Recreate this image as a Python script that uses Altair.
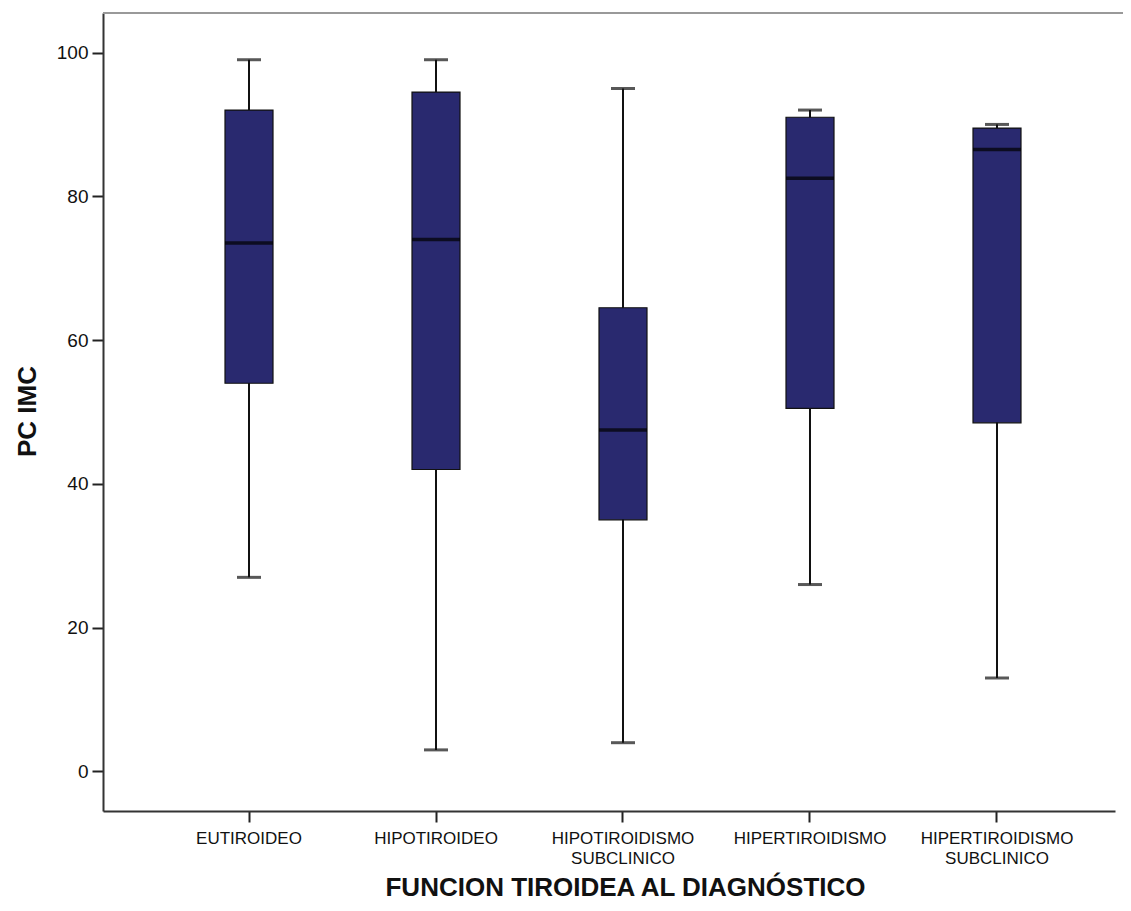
import altair as alt
import pandas as pd

categories = ["EUTIROIDEO", "HIPOTIROIDEO", "HIPOTIROIDISMO SUBCLINICO",
              "HIPERTIROIDISMO", "HIPERTIROIDISMO SUBCLINICO"]
whisker_low = [27, 3, 4, 26, 13]
q1 = [54, 42, 35, 50.5, 48.5]
median = [73.5, 74, 47.5, 82.5, 86.5]
q3 = [92, 94.5, 64.5, 91, 89.5]
whisker_high = [99, 99, 95, 92, 90]
y_ticks = [0, 20, 40, 60, 80, 100]

df = pd.DataFrame({
    "grupo": categories,
    "low": whisker_low,
    "q1": q1,
    "median": median,
    "q3": q3,
    "high": whisker_high,
})

W, H = 1012, 798
FILL = "#29296f"

xscale = alt.Scale(domain=categories, paddingInner=0, paddingOuter=0.2059,
                   align=0.6818, round=False)
yscale = alt.Scale(domain=[-5.5, 105.5], nice=False, zero=False)

label_expr = ("indexof(datum.value, ' SUBCLINICO') >= 0 ? "
              "[replace(datum.value, ' SUBCLINICO', ''), 'SUBCLINICO'] : datum.value")

xaxis = alt.Axis(title="FUNCION TIROIDEA AL DIAGNÓSTICO", labelAngle=0,
                 labelExpr=label_expr, labelFontSize=17, labelLineHeight=20,
                 labelPadding=8, labelColor="#111",
                 tickSize=11, tickWidth=2, tickColor="#222",
                 domainColor="#333", domainWidth=2,
                 titleFontSize=26, titleFontWeight="bold", titleColor="#111",
                 titleX=522, titleY=84, titleAlign="center",
                 titleBaseline="alphabetic", grid=False)
yaxis = alt.Axis(title="PC IMC", values=y_ticks, labelFontSize=19,
                 labelPadding=4, labelColor="#111",
                 tickSize=11, tickWidth=2, tickColor="#222",
                 domainColor="#333", domainWidth=2,
                 titleFontSize=26, titleFontWeight="bold", titleColor="#111",
                 titleAngle=-90, titleX=-76, titleY=398, titleAlign="center",
                 titleBaseline="middle", grid=False)

base = alt.Chart(df).encode(x=alt.X("grupo:N", scale=xscale, axis=xaxis, sort=categories))

whisker = base.mark_rule(color="#111", strokeWidth=2).encode(
    y=alt.Y("low:Q", scale=yscale, axis=yaxis), y2="high:Q")
box = base.mark_bar(size=48, fill=FILL, stroke="#111", strokeWidth=1.2).encode(
    y=alt.Y("q1:Q", scale=yscale), y2="q3:Q")
med = base.mark_tick(size=48, thickness=3.5, color="#000").encode(
    y=alt.Y("median:Q", scale=yscale))
cap_low = base.mark_tick(size=24, thickness=3, color="#111").encode(
    y=alt.Y("low:Q", scale=yscale))
cap_high = base.mark_tick(size=24, thickness=3, color="#111").encode(
    y=alt.Y("high:Q", scale=yscale))

top_border = alt.Chart(pd.DataFrame({"a": [0]})).mark_rule(
    color="#999", strokeWidth=2).encode(
    x=alt.value(0), x2=alt.value(W + 8), y=alt.value(0))

chart = alt.layer(whisker, box, med, cap_low, cap_high, top_border).properties(
    width=W, height=H,
    autosize=alt.AutoSizeParams(type="none"),
    padding={"left": 95, "top": 5, "right": 8, "bottom": 90},
).configure(font="Liberation Sans").configure_view(stroke=None)

chart.save("out.html", embed_options={"renderer": "svg", "actions": False})
